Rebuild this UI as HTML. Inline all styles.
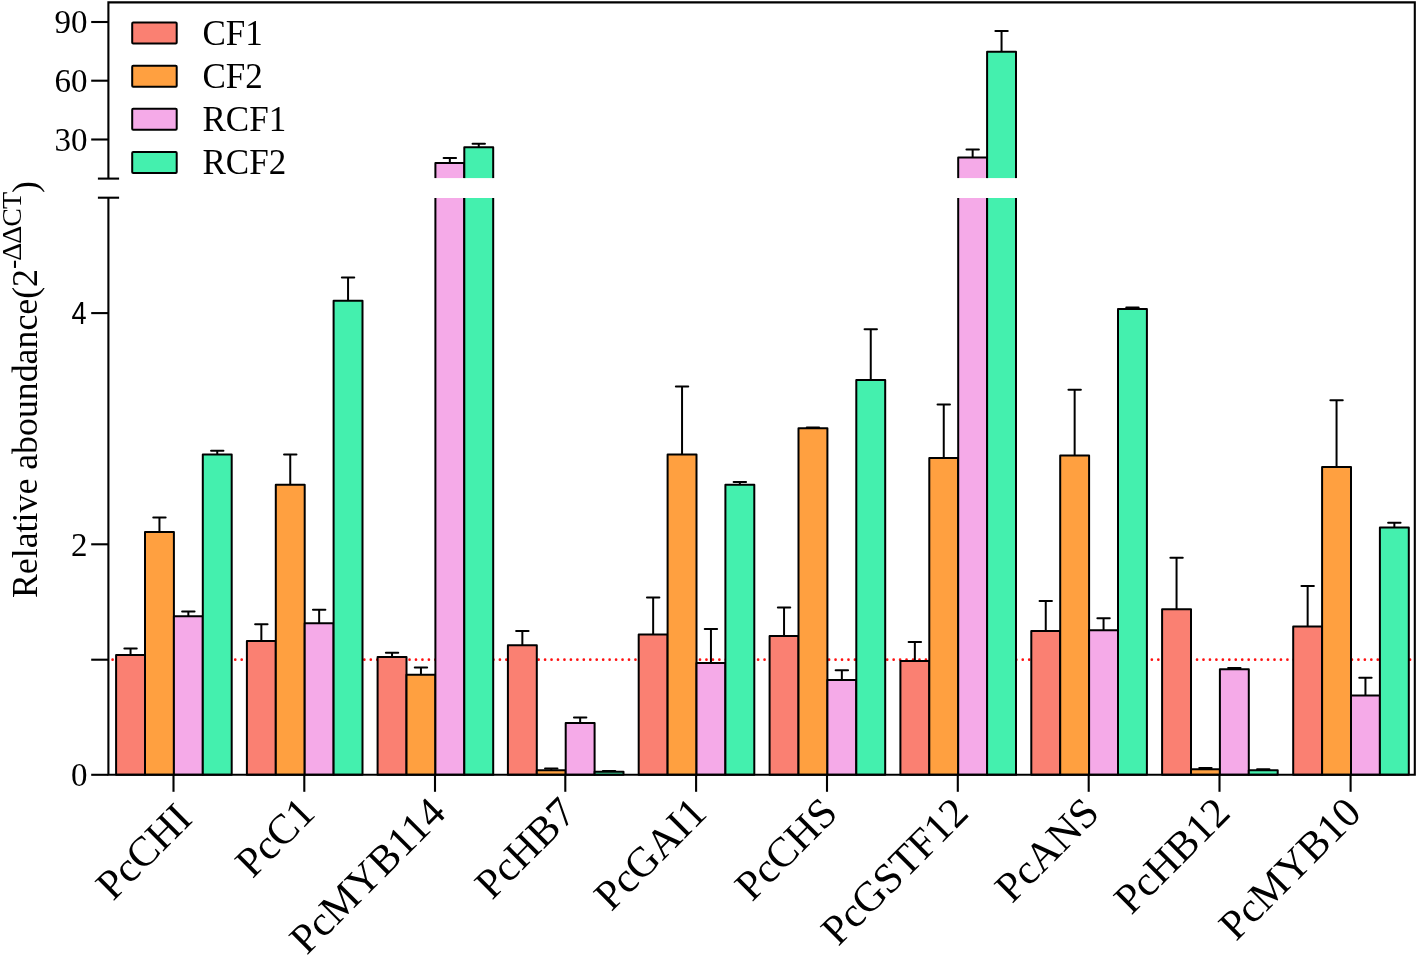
<!DOCTYPE html>
<html><head><meta charset="utf-8"><style>
html,body{margin:0;padding:0;background:#fff;}
body{width:1418px;height:957px;position:relative;overflow:hidden;font-family:"Liberation Serif",serif;}
</style></head><body>
<svg width="1418" height="957" viewBox="0 0 1418 957" style="position:absolute;left:0;top:0;will-change:transform">
<line x1="112.6" y1="659.7" x2="1412" y2="659.7" stroke="#FF1010" stroke-width="2.7" stroke-linecap="round" stroke-dasharray="0 6.455"/>
<rect x="116.1" y="655" width="28.9" height="119.8" fill="#FA8072" stroke="#000" stroke-width="2.0" stroke-linejoin="round"/>
<line x1="130.55" y1="655" x2="130.55" y2="648.5" stroke="#000" stroke-width="2.0"/>
<line x1="124.35" y1="648.5" x2="136.75" y2="648.5" stroke="#000" stroke-width="2.0" stroke-linecap="round"/>
<rect x="145.0" y="532" width="28.9" height="242.8" fill="#FFA040" stroke="#000" stroke-width="2.0" stroke-linejoin="round"/>
<line x1="159.45" y1="532" x2="159.45" y2="517.5" stroke="#000" stroke-width="2.0"/>
<line x1="153.25" y1="517.5" x2="165.65" y2="517.5" stroke="#000" stroke-width="2.0" stroke-linecap="round"/>
<rect x="173.9" y="616.2" width="28.9" height="158.6" fill="#F5AAE8" stroke="#000" stroke-width="2.0" stroke-linejoin="round"/>
<line x1="188.35" y1="616.2" x2="188.35" y2="611.4" stroke="#000" stroke-width="2.0"/>
<line x1="182.15" y1="611.4" x2="194.55" y2="611.4" stroke="#000" stroke-width="2.0" stroke-linecap="round"/>
<rect x="202.8" y="454.5" width="28.9" height="320.3" fill="#44F0AE" stroke="#000" stroke-width="2.0" stroke-linejoin="round"/>
<line x1="217.25" y1="454.5" x2="217.25" y2="450.8" stroke="#000" stroke-width="2.0"/>
<line x1="211.05" y1="450.8" x2="223.45" y2="450.8" stroke="#000" stroke-width="2.0" stroke-linecap="round"/>
<rect x="246.9" y="640.9" width="28.9" height="133.9" fill="#FA8072" stroke="#000" stroke-width="2.0" stroke-linejoin="round"/>
<line x1="261.35" y1="640.9" x2="261.35" y2="624.2" stroke="#000" stroke-width="2.0"/>
<line x1="255.15" y1="624.2" x2="267.55" y2="624.2" stroke="#000" stroke-width="2.0" stroke-linecap="round"/>
<rect x="275.8" y="484.7" width="28.9" height="290.1" fill="#FFA040" stroke="#000" stroke-width="2.0" stroke-linejoin="round"/>
<line x1="290.25" y1="484.7" x2="290.25" y2="454.4" stroke="#000" stroke-width="2.0"/>
<line x1="284.05" y1="454.4" x2="296.45" y2="454.4" stroke="#000" stroke-width="2.0" stroke-linecap="round"/>
<rect x="304.7" y="623.3" width="28.9" height="151.5" fill="#F5AAE8" stroke="#000" stroke-width="2.0" stroke-linejoin="round"/>
<line x1="319.15" y1="623.3" x2="319.15" y2="609.7" stroke="#000" stroke-width="2.0"/>
<line x1="312.95" y1="609.7" x2="325.35" y2="609.7" stroke="#000" stroke-width="2.0" stroke-linecap="round"/>
<rect x="333.6" y="300.8" width="28.9" height="474" fill="#44F0AE" stroke="#000" stroke-width="2.0" stroke-linejoin="round"/>
<line x1="348.05" y1="300.8" x2="348.05" y2="277.6" stroke="#000" stroke-width="2.0"/>
<line x1="341.85" y1="277.6" x2="354.25" y2="277.6" stroke="#000" stroke-width="2.0" stroke-linecap="round"/>
<rect x="377.6" y="657" width="28.9" height="117.8" fill="#FA8072" stroke="#000" stroke-width="2.0" stroke-linejoin="round"/>
<line x1="392.05" y1="657" x2="392.05" y2="652.8" stroke="#000" stroke-width="2.0"/>
<line x1="385.85" y1="652.8" x2="398.25" y2="652.8" stroke="#000" stroke-width="2.0" stroke-linecap="round"/>
<rect x="406.5" y="674.8" width="28.9" height="100.0" fill="#FFA040" stroke="#000" stroke-width="2.0" stroke-linejoin="round"/>
<line x1="420.95" y1="674.8" x2="420.95" y2="667.6" stroke="#000" stroke-width="2.0"/>
<line x1="414.75" y1="667.6" x2="427.15" y2="667.6" stroke="#000" stroke-width="2.0" stroke-linecap="round"/>
<path d="M435.4,178.3 V163 H464.3 V178.3" fill="#F5AAE8" stroke="#000" stroke-width="2.0" stroke-linejoin="round"/>
<path d="M435.4,197.9 V774.8 H464.3 V197.9" fill="#F5AAE8" stroke="#000" stroke-width="2.0"/>
<rect x="433.4" y="178.3" width="32.9" height="19.6" fill="#fff"/>
<line x1="449.85" y1="163" x2="449.85" y2="158" stroke="#000" stroke-width="2.0"/>
<line x1="443.65" y1="158" x2="456.05" y2="158" stroke="#000" stroke-width="2.0" stroke-linecap="round"/>
<path d="M464.3,178.3 V147.2 H493.2 V178.3" fill="#44F0AE" stroke="#000" stroke-width="2.0" stroke-linejoin="round"/>
<path d="M464.3,197.9 V774.8 H493.2 V197.9" fill="#44F0AE" stroke="#000" stroke-width="2.0"/>
<rect x="462.3" y="178.3" width="32.9" height="19.6" fill="#fff"/>
<line x1="478.75" y1="147.2" x2="478.75" y2="143.7" stroke="#000" stroke-width="2.0"/>
<line x1="472.55" y1="143.7" x2="484.95" y2="143.7" stroke="#000" stroke-width="2.0" stroke-linecap="round"/>
<rect x="507.9" y="645.2" width="28.9" height="129.6" fill="#FA8072" stroke="#000" stroke-width="2.0" stroke-linejoin="round"/>
<line x1="522.35" y1="645.2" x2="522.35" y2="631.1" stroke="#000" stroke-width="2.0"/>
<line x1="516.15" y1="631.1" x2="528.55" y2="631.1" stroke="#000" stroke-width="2.0" stroke-linecap="round"/>
<rect x="536.8" y="770.3" width="28.9" height="4.5" fill="#FFA040" stroke="#000" stroke-width="2.0" stroke-linejoin="round"/>
<line x1="551.25" y1="770.3" x2="551.25" y2="768.6" stroke="#000" stroke-width="2.0"/>
<line x1="545.05" y1="768.6" x2="557.45" y2="768.6" stroke="#000" stroke-width="2.0" stroke-linecap="round"/>
<rect x="565.7" y="722.9" width="28.9" height="51.9" fill="#F5AAE8" stroke="#000" stroke-width="2.0" stroke-linejoin="round"/>
<line x1="580.15" y1="722.9" x2="580.15" y2="717.6" stroke="#000" stroke-width="2.0"/>
<line x1="573.95" y1="717.6" x2="586.35" y2="717.6" stroke="#000" stroke-width="2.0" stroke-linecap="round"/>
<rect x="594.6" y="771.8" width="28.9" height="3.0" fill="#44F0AE" stroke="#000" stroke-width="2.0" stroke-linejoin="round"/>
<line x1="609.05" y1="771.8" x2="609.05" y2="770.9" stroke="#000" stroke-width="2.0"/>
<line x1="602.85" y1="770.9" x2="615.25" y2="770.9" stroke="#000" stroke-width="2.0" stroke-linecap="round"/>
<rect x="638.7" y="634.5" width="28.9" height="140.3" fill="#FA8072" stroke="#000" stroke-width="2.0" stroke-linejoin="round"/>
<line x1="653.15" y1="634.5" x2="653.15" y2="597.6" stroke="#000" stroke-width="2.0"/>
<line x1="646.95" y1="597.6" x2="659.35" y2="597.6" stroke="#000" stroke-width="2.0" stroke-linecap="round"/>
<rect x="667.6" y="454.5" width="28.9" height="320.3" fill="#FFA040" stroke="#000" stroke-width="2.0" stroke-linejoin="round"/>
<line x1="682.05" y1="454.5" x2="682.05" y2="386.6" stroke="#000" stroke-width="2.0"/>
<line x1="675.85" y1="386.6" x2="688.25" y2="386.6" stroke="#000" stroke-width="2.0" stroke-linecap="round"/>
<rect x="696.5" y="663.1" width="28.9" height="111.7" fill="#F5AAE8" stroke="#000" stroke-width="2.0" stroke-linejoin="round"/>
<line x1="710.95" y1="663.1" x2="710.95" y2="629" stroke="#000" stroke-width="2.0"/>
<line x1="704.75" y1="629" x2="717.15" y2="629" stroke="#000" stroke-width="2.0" stroke-linecap="round"/>
<rect x="725.4" y="484.8" width="28.9" height="290" fill="#44F0AE" stroke="#000" stroke-width="2.0" stroke-linejoin="round"/>
<line x1="739.85" y1="484.8" x2="739.85" y2="482" stroke="#000" stroke-width="2.0"/>
<line x1="733.65" y1="482" x2="746.05" y2="482" stroke="#000" stroke-width="2.0" stroke-linecap="round"/>
<rect x="769.6" y="636" width="28.9" height="138.8" fill="#FA8072" stroke="#000" stroke-width="2.0" stroke-linejoin="round"/>
<line x1="784.05" y1="636" x2="784.05" y2="607.5" stroke="#000" stroke-width="2.0"/>
<line x1="777.85" y1="607.5" x2="790.25" y2="607.5" stroke="#000" stroke-width="2.0" stroke-linecap="round"/>
<rect x="798.5" y="428.2" width="28.9" height="346.6" fill="#FFA040" stroke="#000" stroke-width="2.0" stroke-linejoin="round"/>
<line x1="812.95" y1="428.2" x2="812.95" y2="427.5" stroke="#000" stroke-width="2.0"/>
<line x1="806.75" y1="427.5" x2="819.15" y2="427.5" stroke="#000" stroke-width="2.0" stroke-linecap="round"/>
<rect x="827.4" y="680" width="28.9" height="94.8" fill="#F5AAE8" stroke="#000" stroke-width="2.0" stroke-linejoin="round"/>
<line x1="841.85" y1="680" x2="841.85" y2="670.2" stroke="#000" stroke-width="2.0"/>
<line x1="835.65" y1="670.2" x2="848.05" y2="670.2" stroke="#000" stroke-width="2.0" stroke-linecap="round"/>
<rect x="856.3" y="380.1" width="28.9" height="394.7" fill="#44F0AE" stroke="#000" stroke-width="2.0" stroke-linejoin="round"/>
<line x1="870.75" y1="380.1" x2="870.75" y2="329.2" stroke="#000" stroke-width="2.0"/>
<line x1="864.55" y1="329.2" x2="876.95" y2="329.2" stroke="#000" stroke-width="2.0" stroke-linecap="round"/>
<rect x="900.4" y="660.9" width="28.9" height="113.9" fill="#FA8072" stroke="#000" stroke-width="2.0" stroke-linejoin="round"/>
<line x1="914.85" y1="660.9" x2="914.85" y2="642.1" stroke="#000" stroke-width="2.0"/>
<line x1="908.65" y1="642.1" x2="921.05" y2="642.1" stroke="#000" stroke-width="2.0" stroke-linecap="round"/>
<rect x="929.3" y="458" width="28.9" height="316.8" fill="#FFA040" stroke="#000" stroke-width="2.0" stroke-linejoin="round"/>
<line x1="943.75" y1="458" x2="943.75" y2="404.6" stroke="#000" stroke-width="2.0"/>
<line x1="937.55" y1="404.6" x2="949.95" y2="404.6" stroke="#000" stroke-width="2.0" stroke-linecap="round"/>
<path d="M958.2,178.3 V157.6 H987.1 V178.3" fill="#F5AAE8" stroke="#000" stroke-width="2.0" stroke-linejoin="round"/>
<path d="M958.2,197.9 V774.8 H987.1 V197.9" fill="#F5AAE8" stroke="#000" stroke-width="2.0"/>
<rect x="956.2" y="178.3" width="32.9" height="19.6" fill="#fff"/>
<line x1="972.65" y1="157.6" x2="972.65" y2="149.5" stroke="#000" stroke-width="2.0"/>
<line x1="966.45" y1="149.5" x2="978.85" y2="149.5" stroke="#000" stroke-width="2.0" stroke-linecap="round"/>
<path d="M987.1,178.3 V51.8 H1016 V178.3" fill="#44F0AE" stroke="#000" stroke-width="2.0" stroke-linejoin="round"/>
<path d="M987.1,197.9 V774.8 H1016 V197.9" fill="#44F0AE" stroke="#000" stroke-width="2.0"/>
<rect x="985.1" y="178.3" width="32.9" height="19.6" fill="#fff"/>
<line x1="1001.55" y1="51.8" x2="1001.55" y2="30.9" stroke="#000" stroke-width="2.0"/>
<line x1="995.35" y1="30.9" x2="1007.75" y2="30.9" stroke="#000" stroke-width="2.0" stroke-linecap="round"/>
<rect x="1031.3" y="631" width="28.9" height="143.8" fill="#FA8072" stroke="#000" stroke-width="2.0" stroke-linejoin="round"/>
<line x1="1045.75" y1="631" x2="1045.75" y2="601" stroke="#000" stroke-width="2.0"/>
<line x1="1039.55" y1="601" x2="1051.95" y2="601" stroke="#000" stroke-width="2.0" stroke-linecap="round"/>
<rect x="1060.2" y="455.4" width="28.9" height="319.4" fill="#FFA040" stroke="#000" stroke-width="2.0" stroke-linejoin="round"/>
<line x1="1074.65" y1="455.4" x2="1074.65" y2="389.8" stroke="#000" stroke-width="2.0"/>
<line x1="1068.45" y1="389.8" x2="1080.85" y2="389.8" stroke="#000" stroke-width="2.0" stroke-linecap="round"/>
<rect x="1089.1" y="630.2" width="28.9" height="144.6" fill="#F5AAE8" stroke="#000" stroke-width="2.0" stroke-linejoin="round"/>
<line x1="1103.55" y1="630.2" x2="1103.55" y2="618.2" stroke="#000" stroke-width="2.0"/>
<line x1="1097.35" y1="618.2" x2="1109.75" y2="618.2" stroke="#000" stroke-width="2.0" stroke-linecap="round"/>
<rect x="1118.0" y="308.9" width="28.9" height="465.9" fill="#44F0AE" stroke="#000" stroke-width="2.0" stroke-linejoin="round"/>
<line x1="1132.45" y1="308.9" x2="1132.45" y2="307.6" stroke="#000" stroke-width="2.0"/>
<line x1="1126.25" y1="307.6" x2="1138.65" y2="307.6" stroke="#000" stroke-width="2.0" stroke-linecap="round"/>
<rect x="1162.1" y="609.2" width="28.9" height="165.6" fill="#FA8072" stroke="#000" stroke-width="2.0" stroke-linejoin="round"/>
<line x1="1176.55" y1="609.2" x2="1176.55" y2="557.8" stroke="#000" stroke-width="2.0"/>
<line x1="1170.35" y1="557.8" x2="1182.75" y2="557.8" stroke="#000" stroke-width="2.0" stroke-linecap="round"/>
<rect x="1191.0" y="769.3" width="28.9" height="5.5" fill="#FFA040" stroke="#000" stroke-width="2.0" stroke-linejoin="round"/>
<line x1="1205.45" y1="769.3" x2="1205.45" y2="768" stroke="#000" stroke-width="2.0"/>
<line x1="1199.25" y1="768" x2="1211.65" y2="768" stroke="#000" stroke-width="2.0" stroke-linecap="round"/>
<rect x="1219.9" y="669.3" width="28.9" height="105.5" fill="#F5AAE8" stroke="#000" stroke-width="2.0" stroke-linejoin="round"/>
<line x1="1234.35" y1="669.3" x2="1234.35" y2="668" stroke="#000" stroke-width="2.0"/>
<line x1="1228.15" y1="668" x2="1240.55" y2="668" stroke="#000" stroke-width="2.0" stroke-linecap="round"/>
<rect x="1248.8" y="770.3" width="28.9" height="4.5" fill="#44F0AE" stroke="#000" stroke-width="2.0" stroke-linejoin="round"/>
<line x1="1263.25" y1="770.3" x2="1263.25" y2="769.3" stroke="#000" stroke-width="2.0"/>
<line x1="1257.05" y1="769.3" x2="1269.45" y2="769.3" stroke="#000" stroke-width="2.0" stroke-linecap="round"/>
<rect x="1293.2" y="626.5" width="28.9" height="148.3" fill="#FA8072" stroke="#000" stroke-width="2.0" stroke-linejoin="round"/>
<line x1="1307.65" y1="626.5" x2="1307.65" y2="586" stroke="#000" stroke-width="2.0"/>
<line x1="1301.45" y1="586" x2="1313.85" y2="586" stroke="#000" stroke-width="2.0" stroke-linecap="round"/>
<rect x="1322.1" y="467" width="28.9" height="307.8" fill="#FFA040" stroke="#000" stroke-width="2.0" stroke-linejoin="round"/>
<line x1="1336.55" y1="467" x2="1336.55" y2="400.2" stroke="#000" stroke-width="2.0"/>
<line x1="1330.35" y1="400.2" x2="1342.75" y2="400.2" stroke="#000" stroke-width="2.0" stroke-linecap="round"/>
<rect x="1351" y="695.5" width="28.9" height="79.3" fill="#F5AAE8" stroke="#000" stroke-width="2.0" stroke-linejoin="round"/>
<line x1="1365.45" y1="695.5" x2="1365.45" y2="677.7" stroke="#000" stroke-width="2.0"/>
<line x1="1359.25" y1="677.7" x2="1371.65" y2="677.7" stroke="#000" stroke-width="2.0" stroke-linecap="round"/>
<rect x="1379.9" y="527.4" width="28.9" height="247.4" fill="#44F0AE" stroke="#000" stroke-width="2.0" stroke-linejoin="round"/>
<line x1="1394.35" y1="527.4" x2="1394.35" y2="522.8" stroke="#000" stroke-width="2.0"/>
<line x1="1388.15" y1="522.8" x2="1400.55" y2="522.8" stroke="#000" stroke-width="2.0" stroke-linecap="round"/>
<path d="M108.4,178.6 V2.4 H1414.8 V774.8 H108.4 V197.7" fill="none" stroke="#000" stroke-width="2.1" stroke-linejoin="miter"/>
<line x1="97.9" y1="178.6" x2="119.1" y2="178.6" stroke="#000" stroke-width="2.1"/>
<line x1="97.9" y1="197.7" x2="119.1" y2="197.7" stroke="#000" stroke-width="2.1"/>
<line x1="91.2" y1="774.8" x2="108.4" y2="774.8" stroke="#000" stroke-width="2.1"/>
<line x1="91.2" y1="659.7" x2="108.4" y2="659.7" stroke="#000" stroke-width="2.1"/>
<line x1="91.2" y1="544.3" x2="108.4" y2="544.3" stroke="#000" stroke-width="2.1"/>
<line x1="91.2" y1="313.1" x2="108.4" y2="313.1" stroke="#000" stroke-width="2.1"/>
<line x1="91.2" y1="139.5" x2="108.4" y2="139.5" stroke="#000" stroke-width="2.1"/>
<line x1="91.2" y1="80.7" x2="108.4" y2="80.7" stroke="#000" stroke-width="2.1"/>
<line x1="91.2" y1="22.0" x2="108.4" y2="22.0" stroke="#000" stroke-width="2.1"/>
<text x="87.5" y="786.0" font-family="Liberation Serif" font-size="33" text-anchor="end">0</text>
<text x="87.5" y="555.5" font-family="Liberation Serif" font-size="33" text-anchor="end">2</text>
<text x="0" y="0" transform="translate(86.6 324.0) scale(0.87 1)" font-family="Liberation Sans" font-size="31.2" text-anchor="end">4</text>
<text x="87.5" y="150.7" font-family="Liberation Serif" font-size="33" text-anchor="end">30</text>
<text x="87.5" y="91.9" font-family="Liberation Serif" font-size="33" text-anchor="end">60</text>
<text x="87.5" y="33.2" font-family="Liberation Serif" font-size="33" text-anchor="end">90</text>
<line x1="173.5" y1="774.8" x2="173.5" y2="791.8" stroke="#000" stroke-width="2.1"/>
<text x="193.8" y="820.8" transform="rotate(-45 193.8 820.8)" font-family="Liberation Serif" font-size="42" text-anchor="end">PcCHI</text>
<line x1="304.3" y1="774.8" x2="304.3" y2="791.8" stroke="#000" stroke-width="2.1"/>
<text x="316.8" y="815" transform="rotate(-45 316.8 815)" font-family="Liberation Serif" font-size="42" text-anchor="end">PcC1</text>
<line x1="435.0" y1="774.8" x2="435.0" y2="791.8" stroke="#000" stroke-width="2.1"/>
<text x="447.5" y="815" transform="rotate(-45 447.5 815)" font-family="Liberation Serif" font-size="42" text-anchor="end">PcMYB114</text>
<line x1="565.3" y1="774.8" x2="565.3" y2="791.8" stroke="#000" stroke-width="2.1"/>
<text x="577.8" y="815" transform="rotate(-45 577.8 815)" font-family="Liberation Serif" font-size="42" text-anchor="end">PcHB7</text>
<line x1="696.1" y1="774.8" x2="696.1" y2="791.8" stroke="#000" stroke-width="2.1"/>
<text x="708.6" y="815" transform="rotate(-45 708.6 815)" font-family="Liberation Serif" font-size="42" text-anchor="end">PcGAI1</text>
<line x1="827.0" y1="774.8" x2="827.0" y2="791.8" stroke="#000" stroke-width="2.1"/>
<text x="839.5" y="815" transform="rotate(-45 839.5 815)" font-family="Liberation Serif" font-size="42" text-anchor="end">PcCHS</text>
<line x1="957.8" y1="774.8" x2="957.8" y2="791.8" stroke="#000" stroke-width="2.1"/>
<text x="970.3" y="815" transform="rotate(-45 970.3 815)" font-family="Liberation Serif" font-size="42" text-anchor="end">PcGSTF12</text>
<line x1="1088.7" y1="774.8" x2="1088.7" y2="791.8" stroke="#000" stroke-width="2.1"/>
<text x="1101.2" y="815" transform="rotate(-45 1101.2 815)" font-family="Liberation Serif" font-size="42" text-anchor="end">PcANS</text>
<line x1="1219.5" y1="774.8" x2="1219.5" y2="791.8" stroke="#000" stroke-width="2.1"/>
<text x="1232.0" y="815" transform="rotate(-45 1232.0 815)" font-family="Liberation Serif" font-size="42" text-anchor="end">PcHB12</text>
<line x1="1350.6" y1="774.8" x2="1350.6" y2="791.8" stroke="#000" stroke-width="2.1"/>
<text x="1363.1" y="815" transform="rotate(-45 1363.1 815)" font-family="Liberation Serif" font-size="42" text-anchor="end">PcMYB10</text>
<rect x="132.2" y="22.6" width="44.5" height="21" rx="1" fill="#FA8072" stroke="#000" stroke-width="2"/>
<text x="202.5" y="44.9" font-family="Liberation Serif" font-size="35">CF1</text>
<rect x="132.2" y="65.7" width="44.5" height="21" rx="1" fill="#FFA040" stroke="#000" stroke-width="2"/>
<text x="202.5" y="88.0" font-family="Liberation Serif" font-size="35">CF2</text>
<rect x="132.2" y="108.8" width="44.5" height="21" rx="1" fill="#F5AAE8" stroke="#000" stroke-width="2"/>
<text x="202.5" y="131.1" font-family="Liberation Serif" font-size="35">RCF1</text>
<rect x="132.2" y="151.9" width="44.5" height="21" rx="1" fill="#44F0AE" stroke="#000" stroke-width="2"/>
<text x="202.5" y="174.2" font-family="Liberation Serif" font-size="35">RCF2</text>
<text x="36.7" y="598" transform="rotate(-90 36.7 598)" font-family="Liberation Serif" font-size="35.8">Relative aboundance(2<tspan font-size="28" dy="-16" letter-spacing="-1.0">-ΔΔCT</tspan><tspan dy="16">)</tspan></text>
</svg>
</body></html>
